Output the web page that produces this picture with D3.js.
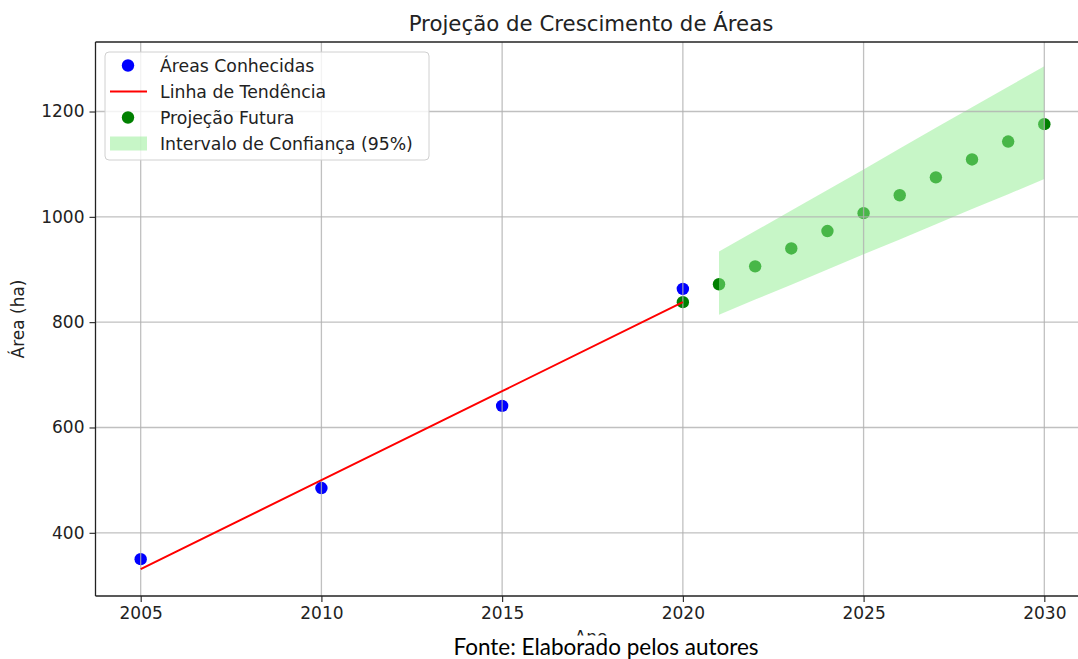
<!DOCTYPE html>
<html>
<head>
<meta charset="utf-8">
<script src="https://cdn.jsdelivr.net/npm/d3@7"></script>
<style>
  html, body { margin: 0; padding: 0; background: #fff; }
  svg { display: block; }
</style>
</head>
<body>
<svg id="chart" width="1078" height="659"></svg>
<script>
// Known areas (ha)
const knownYears = [2005, 2010, 2015, 2020];
const knownAreas = [350, 485, 641, 863];

// Fitted trend at the known years
const trendYears = [2005, 2010, 2015, 2020];
const trendValues = [331, 500, 669, 838];

// Projected areas 2020–2030
const projYears = [2020, 2021, 2022, 2023, 2024, 2025, 2026, 2027, 2028, 2029, 2030];
const projAreas = [838, 872, 906, 940, 973, 1007, 1041, 1075, 1109, 1143, 1176];

// 95% confidence band 2021–2030
const bandYears = [2021, 2022, 2023, 2024, 2025, 2026, 2027, 2028, 2029, 2030];
const bandLower = [814, 843, 871, 900, 929, 957, 986, 1015, 1043, 1072];
const bandUpper = [934, 973, 1012, 1051, 1090, 1130, 1169, 1208, 1247, 1286];

const xTicks = [2005, 2010, 2015, 2020, 2025, 2030];
const yTicks = [400, 600, 800, 1000, 1200];

const svg = d3.select("#chart");
const font = "'DejaVu Sans', sans-serif";

const plotL = 95.5, plotR = 1089.5, plotT = 42, plotB = 596;
const x = d3.scaleLinear().domain([2003.75, 2031.25]).range([plotL, plotR]);
const y = d3.scaleLinear().domain([280, 1332]).range([plotB, plotT]);

const defs = svg.append("defs");
defs.append("clipPath").attr("id", "plotClip")
  .append("rect").attr("x", plotL).attr("y", plotT)
  .attr("width", plotR - plotL).attr("height", plotB - plotT);

const plot = svg.append("g").attr("clip-path", "url(#plotClip)");

// Known areas
plot.append("g").selectAll("circle")
  .data(knownYears.map((yr, i) => [yr, knownAreas[i]]))
  .join("circle")
  .attr("cx", d => x(d[0])).attr("cy", d => y(d[1]))
  .attr("r", 6.2).attr("fill", "#0000ff");

// Projection points
plot.append("g").selectAll("circle")
  .data(projYears.map((yr, i) => [yr, projAreas[i]]))
  .join("circle")
  .attr("cx", d => x(d[0])).attr("cy", d => y(d[1]))
  .attr("r", 6.2).attr("fill", "#008000");

// Confidence band
const bandData = bandYears.map((yr, i) => ({ yr, lo: bandLower[i], hi: bandUpper[i] }));
plot.append("path")
  .datum(bandData)
  .attr("d", d3.area().x(d => x(d.yr)).y0(d => y(d.lo)).y1(d => y(d.hi)))
  .attr("fill", "#90ee90").attr("fill-opacity", 0.5);

// Grid
const grid = plot.append("g").attr("stroke", "#b0b0b0").attr("stroke-width", 1.3).attr("stroke-opacity", 0.8);
grid.selectAll(".gx").data(xTicks).join("line")
  .attr("x1", d => x(d)).attr("x2", d => x(d)).attr("y1", plotT).attr("y2", plotB);
grid.selectAll(".gy").data(yTicks).join("line")
  .attr("x1", plotL).attr("x2", plotR).attr("y1", d => y(d)).attr("y2", d => y(d));

// Trend line
plot.append("path")
  .datum(trendYears.map((yr, i) => [yr, trendValues[i]]))
  .attr("d", d3.line().x(d => x(d[0])).y(d => y(d[1])))
  .attr("fill", "none").attr("stroke", "#ff0000").attr("stroke-width", 2);

// Axes
const xAxis = svg.append("g").attr("transform", `translate(0,${plotB})`)
  .call(d3.axisBottom(x).tickValues(xTicks).tickFormat(d3.format("d")).tickSizeOuter(0).tickSize(6).tickPadding(5));
const yAxis = svg.append("g").attr("transform", `translate(${plotL},0)`)
  .call(d3.axisLeft(y).tickValues(yTicks).tickFormat(d3.format("d")).tickSizeOuter(0).tickSize(6).tickPadding(5));
[xAxis, yAxis].forEach(a => {
  a.select(".domain").remove();
  a.selectAll(".tick line").attr("stroke", "#222").attr("stroke-width", 1.1);
  a.selectAll(".tick text").attr("fill", "#222").style("font-family", font).style("font-size", "17px");
});

// Spines
const spines = svg.append("g").attr("stroke", "#222").attr("stroke-width", 1.3).attr("fill", "none");
spines.append("line").attr("x1", plotL).attr("x2", plotL).attr("y1", plotT).attr("y2", plotB);
spines.append("line").attr("x1", plotL).attr("x2", plotR).attr("y1", plotB).attr("y2", plotB);
spines.append("line").attr("x1", plotL).attr("x2", plotR).attr("y1", plotT).attr("y2", plotT);
spines.append("line").attr("x1", plotR).attr("x2", plotR).attr("y1", plotT).attr("y2", plotB);

// Title
svg.append("text")
  .attr("x", 591).attr("y", 31)
  .attr("text-anchor", "middle")
  .style("font-family", font).style("font-size", "21.3px").attr("fill", "#222")
  .text("Projeção de Crescimento de Áreas");

// Y axis label
svg.append("text")
  .attr("transform", `translate(24,${(plotT + plotB) / 2}) rotate(-90)`)
  .attr("text-anchor", "middle")
  .style("font-family", font).style("font-size", "17px").attr("fill", "#222")
  .text("Área (ha)");

// X axis label, its lower part hidden under the source note strip
svg.append("text")
  .attr("x", 591).attr("y", 643)
  .attr("text-anchor", "middle")
  .style("font-family", font).style("font-size", "17px").attr("fill", "#222")
  .text("Ano");

// Source note
svg.append("rect").attr("x", 0).attr("y", 635.5).attr("width", 1078).attr("height", 24).attr("fill", "#fff");
svg.append("text")
  .attr("x", 606).attr("y", 655)
  .attr("text-anchor", "middle")
  .style("font-family", "Lato, 'Open Sans', sans-serif").style("font-size", "22.5px").attr("fill", "#000")
  .text("Fonte: Elaborado pelos autores");

// Legend
const legend = svg.append("g");
legend.append("rect")
  .attr("x", 105).attr("y", 52).attr("width", 324).attr("height", 108)
  .attr("rx", 4).attr("fill", "#fff").attr("fill-opacity", 0.8)
  .attr("stroke", "#d0d0d0").attr("stroke-width", 1);
const items = [
  { label: "Áreas Conhecidas", kind: "dot", color: "#0000ff" },
  { label: "Linha de Tendência", kind: "line", color: "#ff0000" },
  { label: "Projeção Futura", kind: "dot", color: "#008000" },
  { label: "Intervalo de Confiança (95%)", kind: "patch", color: "#90ee90" }
];
items.forEach((it, i) => {
  const cy = 65.5 + i * 26;
  if (it.kind === "dot") {
    legend.append("circle").attr("cx", 128).attr("cy", cy).attr("r", 6.2).attr("fill", it.color);
  } else if (it.kind === "line") {
    legend.append("line").attr("x1", 110).attr("x2", 147).attr("y1", cy).attr("y2", cy)
      .attr("stroke", it.color).attr("stroke-width", 2);
  } else {
    legend.append("rect").attr("x", 110).attr("y", cy - 7).attr("width", 37).attr("height", 14)
      .attr("fill", it.color).attr("fill-opacity", 0.5);
  }
  legend.append("text")
    .attr("x", 160).attr("y", cy + 6)
    .style("font-family", font).style("font-size", "17.3px").attr("fill", "#222")
    .text(it.label);
});
</script>
</body>
</html>
